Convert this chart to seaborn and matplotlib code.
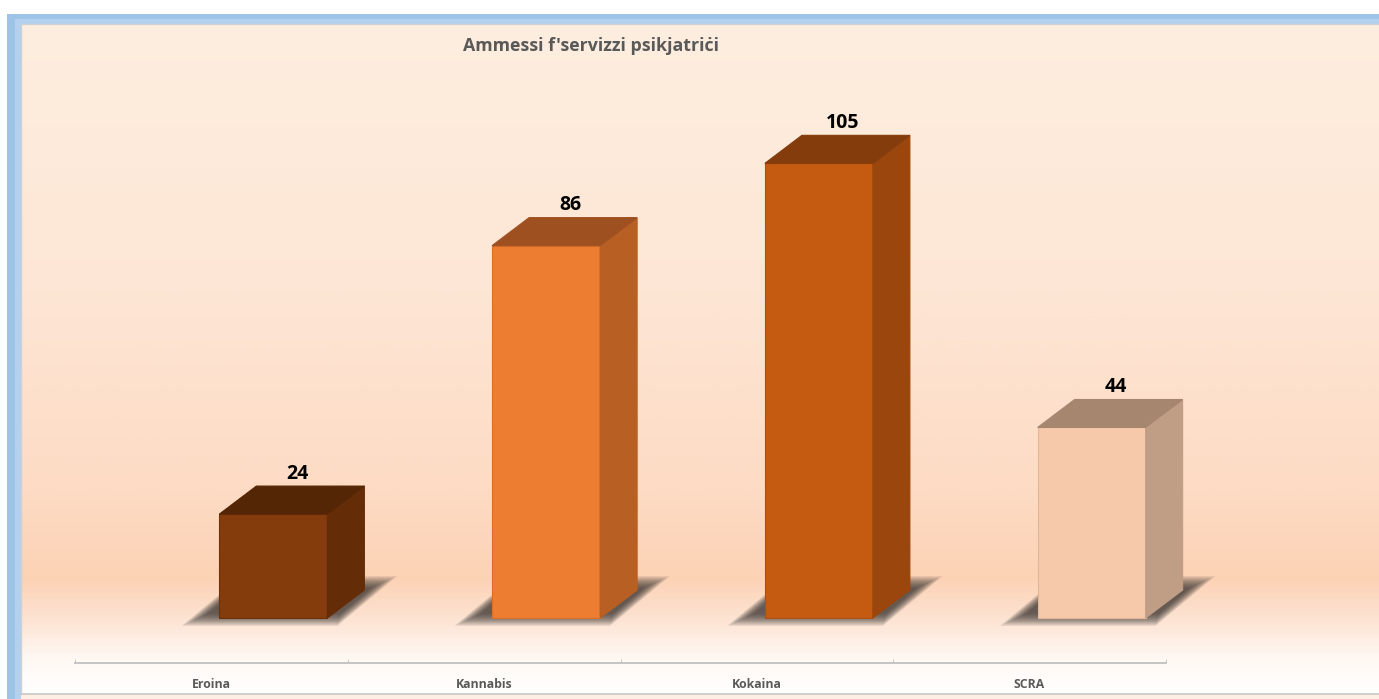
import numpy as np
import matplotlib
matplotlib.use('Agg')
import matplotlib.pyplot as plt
import seaborn as sns
from matplotlib.colors import LinearSegmentedColormap
from matplotlib.patches import Polygon, Rectangle

sns.set_style('white')
plt.rcParams['font.family'] = ['Open Sans', 'DejaVu Sans']

# data
kategoriji = ['Eroina', 'Kannabis', 'Kokaina', 'SCRA']
ammessi = [24, 86, 105, 44]
titlu = "Ammessi f'servizzi psikjatriċi"

# colours: front, side, top
front_col = ['#843C0C', '#ED7D31', '#C55A11', '#F6C9AB']
side_col = ['#652C08', '#B85F24', '#9A460D', '#C09E86']
top_col = ['#552605', '#9E5021', '#843C0C', '#A6866F']
edge_col = ['#6E3209', '#D86E28', '#AE4F0F', '#E2B698']

W, H = 1379, 699
fig = plt.figure(figsize=(W / 100, H / 100), dpi=100)

# background: blue frame + peach gradient
bg = fig.add_axes([0, 0, 1, 1])
bg.add_patch(Rectangle((7, 14), W, H, color='#9DC3E6', lw=0, zorder=0))
bg.add_patch(Rectangle((15, 19), W, H, color='#B3D1EE', lw=0, zorder=0))
grad = LinearSegmentedColormap.from_list('peach', [
    (0.0, '#FEEEDF'), (0.4, '#FDE6D5'), (0.7, '#FDDBC4'), (0.83, '#FCD2B5'),
    (0.89, '#FDE3D2'), (0.95, '#FFF8F3'), (1.0, '#FFFFFF')])
bg.imshow(np.linspace(0, 1, 400).reshape(-1, 1), cmap=grad, aspect='auto',
          extent=[21, W, 694, 24], interpolation='bilinear', zorder=1)
bg.add_patch(Rectangle((21, 694), W, 10, color='#FDEFE4', lw=0, zorder=1))
bg.plot([21, 21, W], [694, 24, 24], color='#D0D0D0', lw=1, zorder=2)
bg.plot([21, W], [694, 694], color='#C8C8C8', lw=1.2, zorder=2)
bg.set_xlim(0, W)
bg.set_ylim(H, 0)
bg.axis('off')

# chart axes
px = 4.33  # pixels per unit
left, right, base, top, axis_y = 75, 1166, 618, 30, 663
ax = fig.add_axes([left / W, (H - axis_y) / H, (right - left) / W, (axis_y - top) / H])
ax.set_facecolor('none')

sns.barplot(x=kategoriji, y=ammessi, hue=kategoriji, palette=front_col,
            width=0.396, legend=False, ax=ax, saturation=1, zorder=3)

step = (right - left) / 4
shift = 62 / step
dx = 37 / step
dy = 28 / px

for i, p in enumerate(ax.patches):
    p.set_x(p.get_x() + shift)
    p.set_edgecolor(edge_col[i])
    p.set_linewidth(0.8)
    p.set_clip_on(False)
    x0 = p.get_x()
    x1 = x0 + p.get_width()
    h = p.get_height()

    # soft shadow on the floor (layers = blur)
    yb, yt = -8 / px, 42 / px
    xl, xr = x0 - 38 / step, x1 + 10 / step
    sh = (60 / step) / (yt - yb)
    for k in range(16):
        e = k * 0.8
        ex, ey = e / step, e / px
        b, t = yb + ey, yt - ey
        if t <= b:
            break
        l, r = xl + ex, xr - ex
        verts = [(l + sh * (b - yb), b), (r + sh * (b - yb), b),
                 (r + sh * (t - yb), t), (l + sh * (t - yb), t)]
        ax.add_patch(Polygon(verts, closed=True, color='#2E2A28', alpha=0.075,
                             lw=0, zorder=2, clip_on=False))

    side = [(x1, 0), (x1 + dx, dy), (x1 + dx, h + dy), (x1, h)]
    ax.add_patch(Polygon(side, closed=True, facecolor=side_col[i],
                         edgecolor=side_col[i], lw=0.8, zorder=3, clip_on=False))
    topf = [(x0, h), (x0 + dx, h + dy), (x1 + dx, h + dy), (x1, h)]
    ax.add_patch(Polygon(topf, closed=True, facecolor=top_col[i],
                         edgecolor=top_col[i], lw=0.8, zorder=3, clip_on=False))

    ax.text(x0 + p.get_width() / 2 + dx * 0.65, h + dy + 2.8, str(ammessi[i]),
            ha='center', va='center', fontsize=14, fontweight='bold',
            color='black', zorder=4)

ax.set_xlim(-0.5, 3.5)
ax.set_ylim(-(axis_y - base) / px, (base - top) / px)
ax.set_yticks([])
ax.set_xticks(range(4))
ax.set_xticklabels(kategoriji, fontsize=8.8, fontweight='bold', color='#595959')
ax.set_xticks(np.arange(-0.5, 4, 1), minor=True)
ax.tick_params(axis='x', which='major', length=0, pad=11)
ax.tick_params(axis='x', which='minor', length=3, color='#BFBFBF',
               direction='in', bottom=True)
for s in ['top', 'right', 'left']:
    ax.spines[s].set_visible(False)
ax.spines['bottom'].set_color('#C4C4C4')
ax.spines['bottom'].set_linewidth(1.4)
ax.set_xlabel('')
ax.set_ylabel('')

fig.text(591 / W, 1 - 46 / H, titlu, ha='center', va='center', fontsize=12.8,
         fontweight='bold', color='#595959')

fig.savefig('out.png', dpi=100)
